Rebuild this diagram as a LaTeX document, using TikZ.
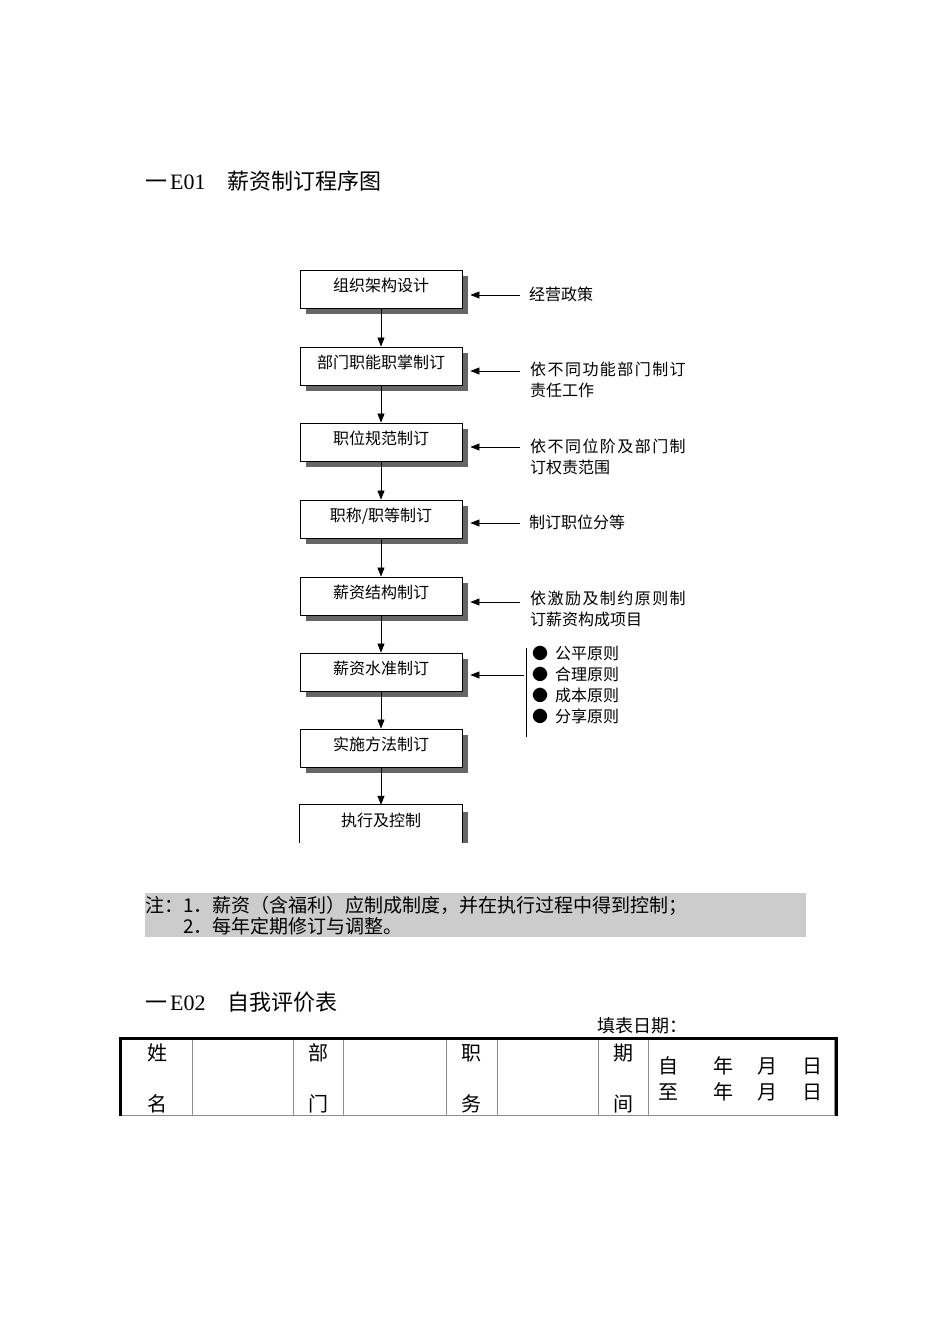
\documentclass[tikz,border=0pt]{standalone}
\usepackage{fontspec}
\setmainfont{Noto Sans CJK SC}
\newfontfamily\latinfont{Liberation Serif}
\newfontfamily\widefont[LetterSpace=9]{Noto Sans CJK SC}
\usetikzlibrary{arrows.meta, positioning, shadows, calc}

\begin{document}
\begin{tikzpicture}[x=1pt, y=-1pt, >={Triangle[length=9pt, width=7pt]},
      stagebox/.style={minimum width=162pt, minimum height=38pt, inner sep=0pt,
                       text height=12pt, text depth=8pt, font=\fontsize{16}{16}\selectfont},
      stage/.style={stagebox, draw, fill=white, line width=0.8pt,
                    general shadow={fill=black!60, shadow xshift=6pt, shadow yshift=-6pt}},
      flow/.style={->, line width=0.7pt},
      cmt/.style={anchor=west, inner sep=0pt, align=left, font=\fontsize{16}{21}\selectfont},
      head/.style={anchor=west, inner sep=0pt, font=\fontsize{22}{22}\selectfont},
      cell/.style={inner sep=0pt, font=\fontsize{20}{20}\selectfont}]

    \useasboundingbox (0,0) rectangle (950,1344);

    % E01 title
    \node[head] (t1) at (145,181) {一\hspace{3pt}{\latinfont E01}\hspace{22pt}薪资制订程序图};

    % Stages down the middle
    \node[stage] (org)    at (381,289) {组织架构设计};
    \node[stage] (dept)   at (381,366) {部门职能职掌制订};
    \node[stage] (post)   at (381,442) {职位规范制订};
    \node[stage] (rank)   at (381,519) {职称/职等制订};
    \node[stage] (struct) at (381,596) {薪资结构制订};
    \node[stage] (level)  at (381,672) {薪资水准制订};
    \node[stage] (impl)   at (381,748) {实施方法制订};
    \node[stagebox] (ctrl) at (381,824) {执行及控制};
    % last box runs off the bottom: no lower edge
    \fill[black!60] ($(ctrl.north east)+(0,7)$) rectangle ($(ctrl.south east)+(6,0)$);
    \draw[line width=0.8pt] (ctrl.south west) -- (ctrl.north west) -- (ctrl.north east) -- (ctrl.south east);

    \draw[flow] (org) -- (dept);
    \draw[flow] (dept) -- (post);
    \draw[flow] (post) -- (rank);
    \draw[flow] (rank) -- (struct);
    \draw[flow] (struct) -- (level);
    \draw[flow] (level) -- (impl);
    \draw[flow] (impl) -- (ctrl);

    % Inputs on the right
    \node[cmt] (lab1) at (529,294)   {经营政策};
    \node[cmt] (lab2) at (530,379.5) {{\widefont 依不同功能部门制订}\\责任工作};
    \node[cmt] (lab3) at (530,457)   {{\widefont 依不同位阶及部门制}\\订权责范围};
    \node[cmt] (lab4) at (529,522)   {制订职位分等};
    \node[cmt] (lab5) at (530,608.5) {{\widefont 依激励及制约原则制}\\订薪资构成项目};
    \node[cmt] (lab6) at (532,685)   {●\hspace{7pt}公平原则\\●\hspace{7pt}合理原则\\●\hspace{7pt}成本原则\\●\hspace{7pt}分享原则};

    \coordinate (f1) at (520,295);
    \coordinate (f2) at (520,371);
    \coordinate (f3) at (520,447);
    \coordinate (f4) at (520,523);
    \coordinate (f5) at (520,602);
    \coordinate (f6) at (524,675);
    \coordinate (bartop) at (526,648);
    \coordinate (barbot) at (526,737);
    \draw[line width=0.8pt] (bartop) -- (barbot);

    \draw[flow] (f1) -- ($(org.east |- f1)+(8,0)$);
    \draw[flow] (f2) -- ($(dept.east |- f2)+(8,0)$);
    \draw[flow] (f3) -- ($(post.east |- f3)+(8,0)$);
    \draw[flow] (f4) -- ($(rank.east |- f4)+(8,0)$);
    \draw[flow] (f5) -- ($(struct.east |- f5)+(8,0)$);
    \draw[flow] (f6) -- ($(level.east |- f6)+(8,0)$);

    % Note band
    \node[anchor=north west, fill=black!20, text width=661pt, minimum height=44pt,
          inner sep=0pt, align=left, font=\fontsize{19}{21}\selectfont] (memo) at (145,893)
          {注：1．薪资（含福利）应制成制度，并在执行过程中得到控制；\\\hspace*{2em}2．每年定期修订与调整。};

    % E02 title and form
    \node[head] (t2) at (145,1002) {一\hspace{3pt}{\latinfont E02}\hspace{22pt}自我评价表};
    \node[anchor=west, inner sep=0pt, font=\fontsize{18}{18}\selectfont] (fill) at (597,1026) {填表日期：};

    \draw[black!45, line width=0.8pt] (119,1037) rectangle (834,1115);
    \foreach \cx in {192,293,343,446,497,598,648}
        \draw[black!45, line width=0.8pt] (\cx,1037) -- (\cx,1115);
    \draw[line width=3pt] (120,1116) -- (120,1038.5) -- (836.5,1038.5) -- (836.5,1116);

    \foreach \t/\px/\py [count=\i] in {姓/157/1053, 名/157/1104, 部/318/1053, 门/318/1104,
            职/471/1053, 务/471/1104, 期/623/1053, 间/623/1104,
            自/668/1066, 年/723/1066, 月/767/1066, 日/812/1066,
            至/668/1092, 年/723/1092, 月/767/1092, 日/812/1092}
        \node[cell] (cell\i) at (\px,\py) {\t};

\end{tikzpicture}
\end{document}
